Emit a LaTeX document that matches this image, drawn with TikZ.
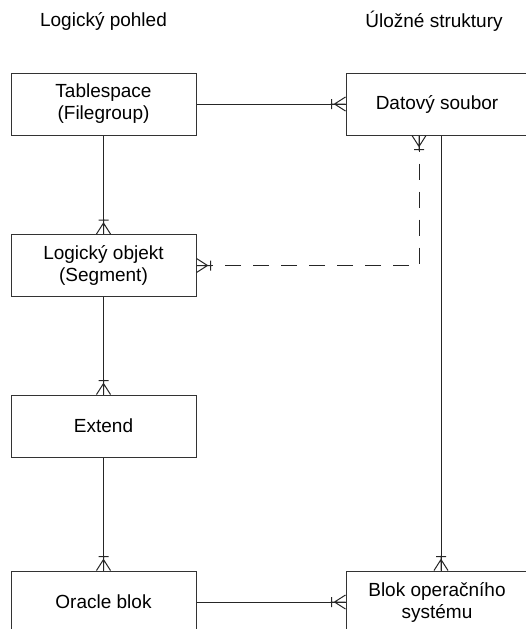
\documentclass[tikz,border=0pt]{standalone}
\usepackage{fontspec}
\setmainfont{Liberation Sans}
\usetikzlibrary{arrows.meta}

% crow's foot with a bar: "one or many" end of a relationship
\pgfdeclarearrow{
  name = CrowBar,
  setup code = {
    \pgfarrowssettipend{0pt}
    \pgfarrowssetlineend{0pt}
    \pgfarrowssetbackend{-15pt}
    \pgfarrowssetvisualbackend{-15pt}
    \pgfarrowsupperhullpoint{0pt}{7pt}
    \pgfarrowsupperhullpoint{-15pt}{5pt}
  },
  drawing code = {
    \pgfsetdash{}{0pt}
    \pgfpathmoveto{\pgfqpoint{0pt}{7pt}}
    \pgfpathlineto{\pgfqpoint{-11pt}{0pt}}
    \pgfpathlineto{\pgfqpoint{0pt}{-7pt}}
    \pgfpathmoveto{\pgfqpoint{-14pt}{5pt}}
    \pgfpathlineto{\pgfqpoint{-14pt}{-5pt}}
    \pgfpathmoveto{\pgfqpoint{-15pt}{0pt}}
    \pgfpathlineto{\pgfqpoint{0pt}{0pt}}
    \pgfusepathqstroke
  },
}

\begin{document}
\begin{tikzpicture}[x=1pt, y=-1pt,
  every node/.style={font=\fontsize{19}{22}\selectfont, text=black},
  entity/.style={draw=black!80, line width=1pt, rectangle, align=center,
                 minimum height=62pt, inner sep=0pt},
  leftbox/.style={entity, minimum width=185pt},
  rightbox/.style={entity, minimum width=182pt},
  rel/.style={draw=black!85, line width=1pt, -{CrowBar}},
  relboth/.style={draw=black!85, line width=1pt, dash pattern=on 16pt off 12pt,
                  {CrowBar}-{CrowBar}},
  heading/.style={font=\fontsize{19}{22}\selectfont}
]
\useasboundingbox (0,0) rectangle (526,629);

% column headings
\node[heading] (hl) at (103.5,21) {Logický pohled};
\node[heading] (hr) at (434,21) {Úložné struktury};

% logical view
\node[leftbox] (ts) at (103.5,104) {Tablespace\\(Filegroup)};
\node[leftbox] (lo) at (103.5,265.5) {Logický objekt\\(Segment)};
\node[leftbox] (ex) at (103.5,426) {Extend};
\node[leftbox] (ob) at (103.5,602) {Oracle blok};

% storage structures
\node[rightbox] (ds) at (437,104) {Datový soubor};
\node[rightbox] (bo) at (437,602) {Blok operačního\\systému};

% relationships
\draw[rel] (ts.east) -- (ds.west);
\draw[rel] (ts.south) -- (lo.north);
\draw[rel] (lo.south) -- (ex.north);
\draw[rel] (ex.south) -- (ob.north);
\draw[rel] (ob.east) -- (bo.west);
\draw[rel] ([xshift=4pt]ds.south) -- ([xshift=4pt]bo.north);
\draw[relboth] ([xshift=-18pt]ds.south) |- (lo.east);
\end{tikzpicture}
\end{document}
